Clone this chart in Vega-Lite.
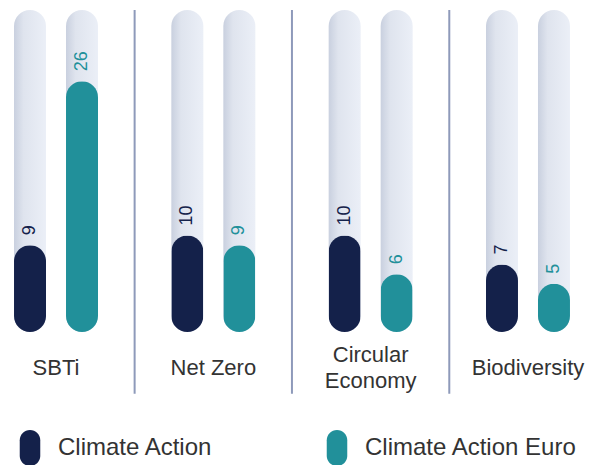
{
  "$schema": "https://vega.github.io/schema/vega-lite/v6.json",
  "width": 584,
  "height": 322,
  "autosize": {"type": "none"},
  "padding": {"left": 0, "top": 10, "right": 13, "bottom": 133},
  "config": {
    "view": {"stroke": null},
    "font": "Liberation Sans",
    "axis": {"labelFont": "Liberation Sans"},
    "legend": {"labelFont": "Liberation Sans"},
    "text": {"font": "Liberation Sans"}
  },
  "datasets": {
    "bars": [
      {"category": "SBTi", "series": "Climate Action", "value": 9},
      {"category": "SBTi", "series": "Climate Action Euro", "value": 26},
      {"category": "Net Zero", "series": "Climate Action", "value": 10},
      {"category": "Net Zero", "series": "Climate Action Euro", "value": 9},
      {"category": "Circular Economy", "series": "Climate Action", "value": 10},
      {"category": "Circular Economy", "series": "Climate Action Euro", "value": 6},
      {"category": "Biodiversity", "series": "Climate Action", "value": 7},
      {"category": "Biodiversity", "series": "Climate Action Euro", "value": 5}
    ],
    "seps": [
      {"category": "SBTi"},
      {"category": "Net Zero"},
      {"category": "Circular Economy"}
    ]
  },
  "layer": [
    {
      "data": {"name": "bars"},
      "mark": {
        "type": "bar",
        "cornerRadius": 16,
        "fill": {
          "gradient": "linear", "x1": 0, "y1": 0, "x2": 1, "y2": 0,
          "stops": [
            {"offset": 0, "color": "#c9d0df"},
            {"offset": 0.3, "color": "#dfe4ee"},
            {"offset": 1, "color": "#ebeff7"}
          ]
        }
      },
      "encoding": {
        "x": {
          "field": "category", "type": "nominal",
          "scale": {"domain": ["SBTi", "Net Zero", "Circular Economy", "Biodiversity"], "paddingInner": 0.339, "paddingOuter": 0.0255},
          "axis": {
            "title": null, "domain": false, "ticks": false, "tickSize": 0,
            "labelPadding": {"condition": {"test": "datum.value == 'Circular Economy'", "value": 22}, "value": 35},
            "labelFontSize": 22, "labelColor": "#333333", "labelFont": "Liberation Sans",
            "labelBaseline": "middle", "labelAngle": 0, "labelLineHeight": 26,
            "labelLimit": 0, "labelOverlap": false,
            "labelExpr": "datum.label == 'Circular Economy' ? ['Circular', 'Economy'] : datum.label"
          }
        },
        "xOffset": {
          "field": "series", "type": "nominal",
          "scale": {"domain": ["Climate Action", "Climate Action Euro"], "paddingInner": 0.3846, "paddingOuter": 0.1923}
        },
        "y": {"datum": 33.4, "type": "quantitative", "scale": {"domain": [0, 33.4], "nice": false, "zero": true}, "axis": null}
      }
    },
    {
      "data": {"name": "bars"},
      "mark": {"type": "bar", "cornerRadius": 16},
      "encoding": {
        "x": {"field": "category", "type": "nominal"},
        "xOffset": {"field": "series", "type": "nominal"},
        "y": {"field": "value", "type": "quantitative"},
        "color": {
          "field": "series", "type": "nominal",
          "scale": {"domain": ["Climate Action", "Climate Action Euro"], "range": ["#14214a", "#21909a"]},
          "legend": {
            "orient": "none", "legendX": 12, "legendY": 420, "direction": "horizontal",
            "title": null,
            "symbolType": "M-0.57,-0.43A0.57,0.57 0 0 1 0.57,-0.43L0.57,0.43A0.57,0.57 0 0 1 -0.57,0.43Z",
            "symbolSize": 1296, "symbolStrokeWidth": 0, "symbolOpacity": 1,
            "labelFontSize": 24, "labelColor": "#333333", "labelOffset": 10, "labelFont": "Liberation Sans",
            "columnPadding": 106, "labelLimit": 0
          }
        }
      }
    },
    {
      "data": {"name": "bars"},
      "transform": [{"filter": "datum.series == 'Climate Action'"}],
      "mark": {"type": "text", "angle": 270, "align": "left", "baseline": "middle", "dx": 10, "fontSize": 18, "font": "Liberation Sans", "color": "#14214a"},
      "encoding": {
        "x": {"field": "category", "type": "nominal"},
        "xOffset": {"field": "series", "type": "nominal"},
        "y": {"field": "value", "type": "quantitative"},
        "text": {"field": "value", "type": "quantitative"}
      }
    },
    {
      "data": {"name": "bars"},
      "transform": [{"filter": "datum.series == 'Climate Action Euro'"}],
      "mark": {"type": "text", "angle": 270, "align": "left", "baseline": "middle", "dx": 10, "fontSize": 18, "font": "Liberation Sans", "color": "#21909a"},
      "encoding": {
        "x": {"field": "category", "type": "nominal"},
        "xOffset": {"field": "series", "type": "nominal"},
        "y": {"field": "value", "type": "quantitative"},
        "text": {"field": "value", "type": "quantitative"}
      }
    },
    {
      "data": {"name": "seps"},
      "mark": {"type": "rule", "color": "#8e9aba", "strokeWidth": 2},
      "encoding": {
        "x": {"field": "category", "type": "nominal", "bandPosition": 1.256},
        "y": {"datum": -6.4, "type": "quantitative"},
        "y2": {"datum": 33.4}
      }
    }
  ]
}
